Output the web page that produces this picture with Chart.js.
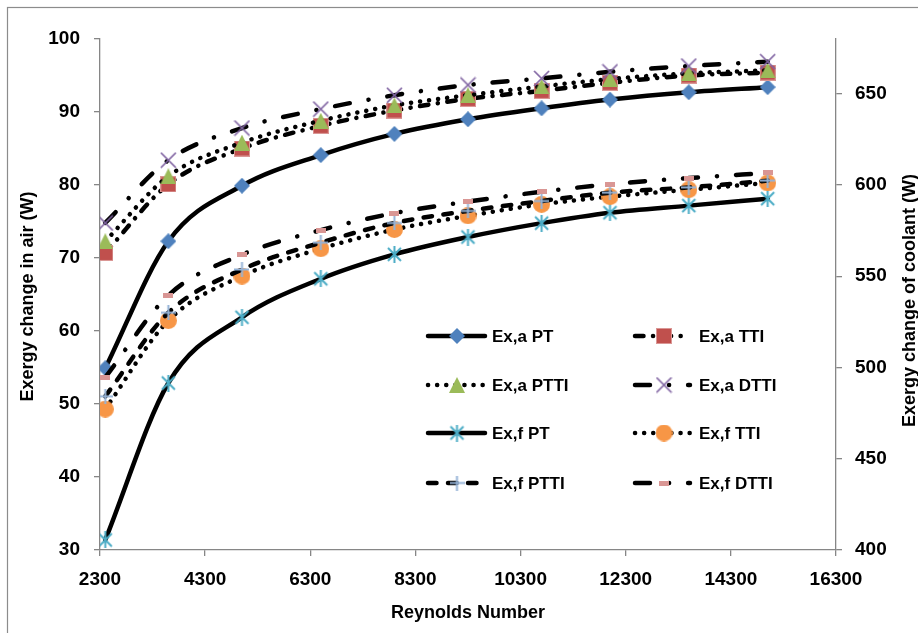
<!DOCTYPE html>
<html>
<head>
<meta charset="utf-8">
<script src="https://cdn.jsdelivr.net/npm/chart.js@4.4.0/dist/chart.umd.min.js"></script>
<style>
  html, body { margin: 0; padding: 0; background: #fff; }
</style>
</head>
<body>
<canvas id="chart" width="918" height="633"></canvas>
<script>
// Reynolds numbers of the measured points
const reynolds = [2400, 3600, 5000, 6500, 7900, 9300, 10700, 12000, 13500, 15000];

// exergy change in air (W), left axis
const exaPT   = [54.9, 72.3, 79.9, 84.1, 87.0, 89.0, 90.5, 91.7, 92.7, 93.4];
const exaTTI  = [70.7, 80.1, 85.0, 88.1, 90.2, 91.8, 92.9, 94.0, 95.0, 95.4];
const exaPTTI = [72.3, 81.2, 85.8, 88.8, 90.9, 92.3, 93.5, 94.5, 95.3, 95.7];
const exaDTTI = [74.8, 83.4, 87.8, 90.4, 92.3, 93.7, 94.6, 95.5, 96.3, 96.9];

// exergy change of coolant (W), right axis
const exfPT   = [405.5, 491.5, 527.5, 548.6, 562.0, 571.5, 579.1, 584.8, 588.7, 592.5];
const exfTTI  = [477.2, 525.7, 550.1, 565.1, 575.6, 583.1, 589.4, 593.6, 597.4, 601.1];
const exfPTTI = [484.2, 530.0, 553.7, 568.4, 579.2, 585.8, 591.2, 595.8, 598.7, 602.4];
const exfDTTI = [494.6, 539.5, 561.8, 575.3, 584.6, 590.9, 596.3, 600.4, 603.8, 606.6];

const names = ['Ex,a PT', 'Ex,a TTI', 'Ex,a PTTI', 'Ex,a DTTI',
               'Ex,f PT', 'Ex,f TTI', 'Ex,f PTTI', 'Ex,f DTTI'];

const xTicks = [2300, 4300, 6300, 8300, 10300, 12300, 14300, 16300];
const leftTicks = [30, 40, 50, 60, 70, 80, 90, 100];
const rightTicks = [400, 450, 500, 550, 600, 650];

const FONT = '"Liberation Sans", Arial, sans-serif';
const AXIS = '#868686';

// marker images (Excel style markers)
function mk(w, h, fn) {
  const c = document.createElement('canvas');
  c.width = w; c.height = h;
  fn(c.getContext('2d'), w, h);
  return c;
}
const mDiamond = mk(16, 16, (g, w, h) => {
  g.fillStyle = '#4F81BD';
  g.beginPath(); g.moveTo(w / 2, 0); g.lineTo(w, h / 2); g.lineTo(w / 2, h); g.lineTo(0, h / 2); g.closePath(); g.fill();
});
const mSquare = mk(16, 16, (g, w, h) => {
  g.fillStyle = '#C0504D'; g.fillRect(0, 0, w, h);
  g.strokeStyle = '#DA9795'; g.lineWidth = 1; g.strokeRect(0.5, 0.5, w - 1, h - 1);
});
const mTriangle = mk(16, 16, (g, w, h) => {
  g.fillStyle = '#9BBB59';
  g.beginPath(); g.moveTo(w / 2, 0); g.lineTo(w, h); g.lineTo(0, h); g.closePath(); g.fill();
});
const mCross = mk(17, 17, (g, w, h) => {
  g.strokeStyle = '#8064A2'; g.lineWidth = 1.7;
  g.beginPath(); g.moveTo(1, 1); g.lineTo(w - 1, h - 1); g.moveTo(w - 1, 1); g.lineTo(1, h - 1); g.stroke();
});
const mStar = mk(17, 17, (g, w, h) => {
  g.strokeStyle = '#4BACC6'; g.lineWidth = 2;
  g.beginPath();
  g.moveTo(2, 2); g.lineTo(w - 2, h - 2);
  g.moveTo(w - 2, 2); g.lineTo(2, h - 2);
  g.moveTo(w / 2, 0); g.lineTo(w / 2, h);
  g.stroke();
});
const mCircle = mk(17, 17, (g, w, h) => {
  g.fillStyle = '#F79646';
  g.beginPath(); g.arc(w / 2, h / 2, w / 2, 0, Math.PI * 2); g.fill();
});
const mPlus = mk(15, 15, (g, w, h) => {
  g.strokeStyle = '#95B3D7'; g.lineWidth = 2;
  g.beginPath(); g.moveTo(w / 2, 0); g.lineTo(w / 2, h); g.moveTo(0, h / 2); g.lineTo(w, h / 2); g.stroke();
});
const mDash = mk(10, 5, (g, w, h) => {
  g.fillStyle = '#D99694'; g.fillRect(0, 0, w, h);
});

const SOLID = [];
const DOTS = [0.1, 9];
const DASH = [8.5, 11.5];
const DASHDOT = [8.5, 9.5, 0.1, 9.5];
const LONGDASHDOT = [15, 19, 0.1, 19];

const styles = [
  { data: exaPT,   axis: 'y',  dash: SOLID,       marker: mDiamond },
  { data: exaTTI,  axis: 'y',  dash: DASHDOT,     marker: mSquare },
  { data: exaPTTI, axis: 'y',  dash: DOTS,        marker: mTriangle },
  { data: exaDTTI, axis: 'y',  dash: LONGDASHDOT, marker: mCross },
  { data: exfPT,   axis: 'y1', dash: SOLID,       marker: mStar },
  { data: exfTTI,  axis: 'y1', dash: DOTS,        marker: mCircle },
  { data: exfPTTI, axis: 'y1', dash: DASH,        marker: mPlus },
  { data: exfDTTI, axis: 'y1', dash: LONGDASHDOT, marker: mDash }
];

const datasets = styles.map((s, i) => ({
  label: names[i],
  data: reynolds.map((x, k) => ({ x: x, y: s.data[k] })),
  yAxisID: s.axis,
  borderColor: '#000',
  borderWidth: 4.5,
  borderDash: s.dash,
  borderCapStyle: 'round',
  borderJoinStyle: 'round',
  cubicInterpolationMode: 'monotone',
  pointStyle: s.marker,
  pointRadius: 8,
  fill: false,
  order: 7 - i
}));

const frame = {
  id: 'frame',
  beforeDraw(chart) {
    const ctx = chart.ctx;
    ctx.save();
    ctx.fillStyle = '#fff';
    ctx.fillRect(0, 0, chart.width, chart.height);
    ctx.strokeStyle = '#8c8c8c';
    ctx.lineWidth = 1.2;
    ctx.strokeRect(7.5, 7.5, chart.width + 20, chart.height + 20);
    ctx.restore();
  },
  afterDraw(chart) {
    const ctx = chart.ctx;
    const a = chart.chartArea;
    ctx.save();
    ctx.fillStyle = '#000';
    ctx.font = 'bold 18px ' + FONT;
    ctx.textAlign = 'center';
    ctx.textBaseline = 'middle';
    ctx.fillText('Reynolds Number', (a.left + a.right) / 2, 613);
    ctx.save();
    ctx.translate(28, (a.top + a.bottom) / 2 + 2);
    ctx.rotate(-Math.PI / 2);
    ctx.fillText('Exergy change in air (W)', 0, 0);
    ctx.restore();
    ctx.save();
    ctx.translate(910, (a.top + a.bottom) / 2 + 6);
    ctx.rotate(-Math.PI / 2);
    ctx.fillText('Exergy change of coolant (W)', 0, 0);
    ctx.restore();

    // legend, two columns inside the plot
    const cols = [
      { x0: 428, x1: 485, mx: 457, tx: 492 },
      { x0: 635, x1: 690, mx: 664, tx: 699 }
    ];
    const rows = [336, 385, 433, 483];
    ctx.textAlign = 'left';
    ctx.font = 'bold 17px ' + FONT;
    chart.data.datasets.forEach((ds, i) => {
      const c = cols[i % 2];
      const y = rows[Math.floor(i / 2)];
      ctx.strokeStyle = '#000';
      ctx.lineWidth = 4.5;
      ctx.lineCap = 'round';
      ctx.setLineDash(ds.borderDash);
      ctx.beginPath();
      ctx.moveTo(c.x0, y);
      ctx.lineTo(c.x1, y);
      ctx.stroke();
      ctx.setLineDash([]);
      const m = ds.pointStyle;
      ctx.drawImage(m, c.mx - m.width / 2, y - m.height / 2);
      ctx.fillStyle = '#000';
      ctx.fillText(ds.label, c.tx, y + 1);
    });
    ctx.restore();
  }
};

function tickSet(list) {
  return axis => { axis.ticks = list.map(v => ({ value: v })); };
}

const tickFont = { family: FONT, size: 19, weight: 'bold' };
const gridOpts = { drawOnChartArea: false, drawTicks: true, tickLength: 6, color: AXIS, lineWidth: 1.3 };
const borderOpts = { color: AXIS, width: 1.3 };

new Chart(document.getElementById('chart'), {
  type: 'line',
  data: { datasets: datasets },
  options: {
    responsive: false,
    devicePixelRatio: 1,
    animation: false,
    layout: { padding: { top: 39, left: 0, right: 0, bottom: 0 }, autoPadding: false },
    plugins: { legend: { display: false }, tooltip: { enabled: false } },
    scales: {
      x: {
        type: 'linear', position: 'bottom', min: 2300, max: 16300,
        afterBuildTicks: tickSet(xTicks),
        afterFit: s => { s.height = 83; },
        ticks: { font: tickFont, color: '#000', padding: 12, maxRotation: 0, autoSkip: false, callback: v => String(v) },
        grid: gridOpts, border: borderOpts
      },
      y: {
        type: 'linear', position: 'left', min: 30, max: 100,
        afterBuildTicks: tickSet(leftTicks),
        afterFit: s => { s.width = 100; },
        ticks: { font: tickFont, color: '#000', padding: 14, callback: v => String(v) },
        grid: gridOpts, border: borderOpts
      },
      y1: {
        type: 'linear', position: 'right', min: 400, max: 680,
        afterBuildTicks: tickSet(rightTicks),
        afterFit: s => { s.width = 82; },
        ticks: { font: tickFont, color: '#000', padding: 13, callback: v => String(v) },
        grid: gridOpts, border: borderOpts
      }
    }
  },
  plugins: [frame]
});
</script>
</body>
</html>
